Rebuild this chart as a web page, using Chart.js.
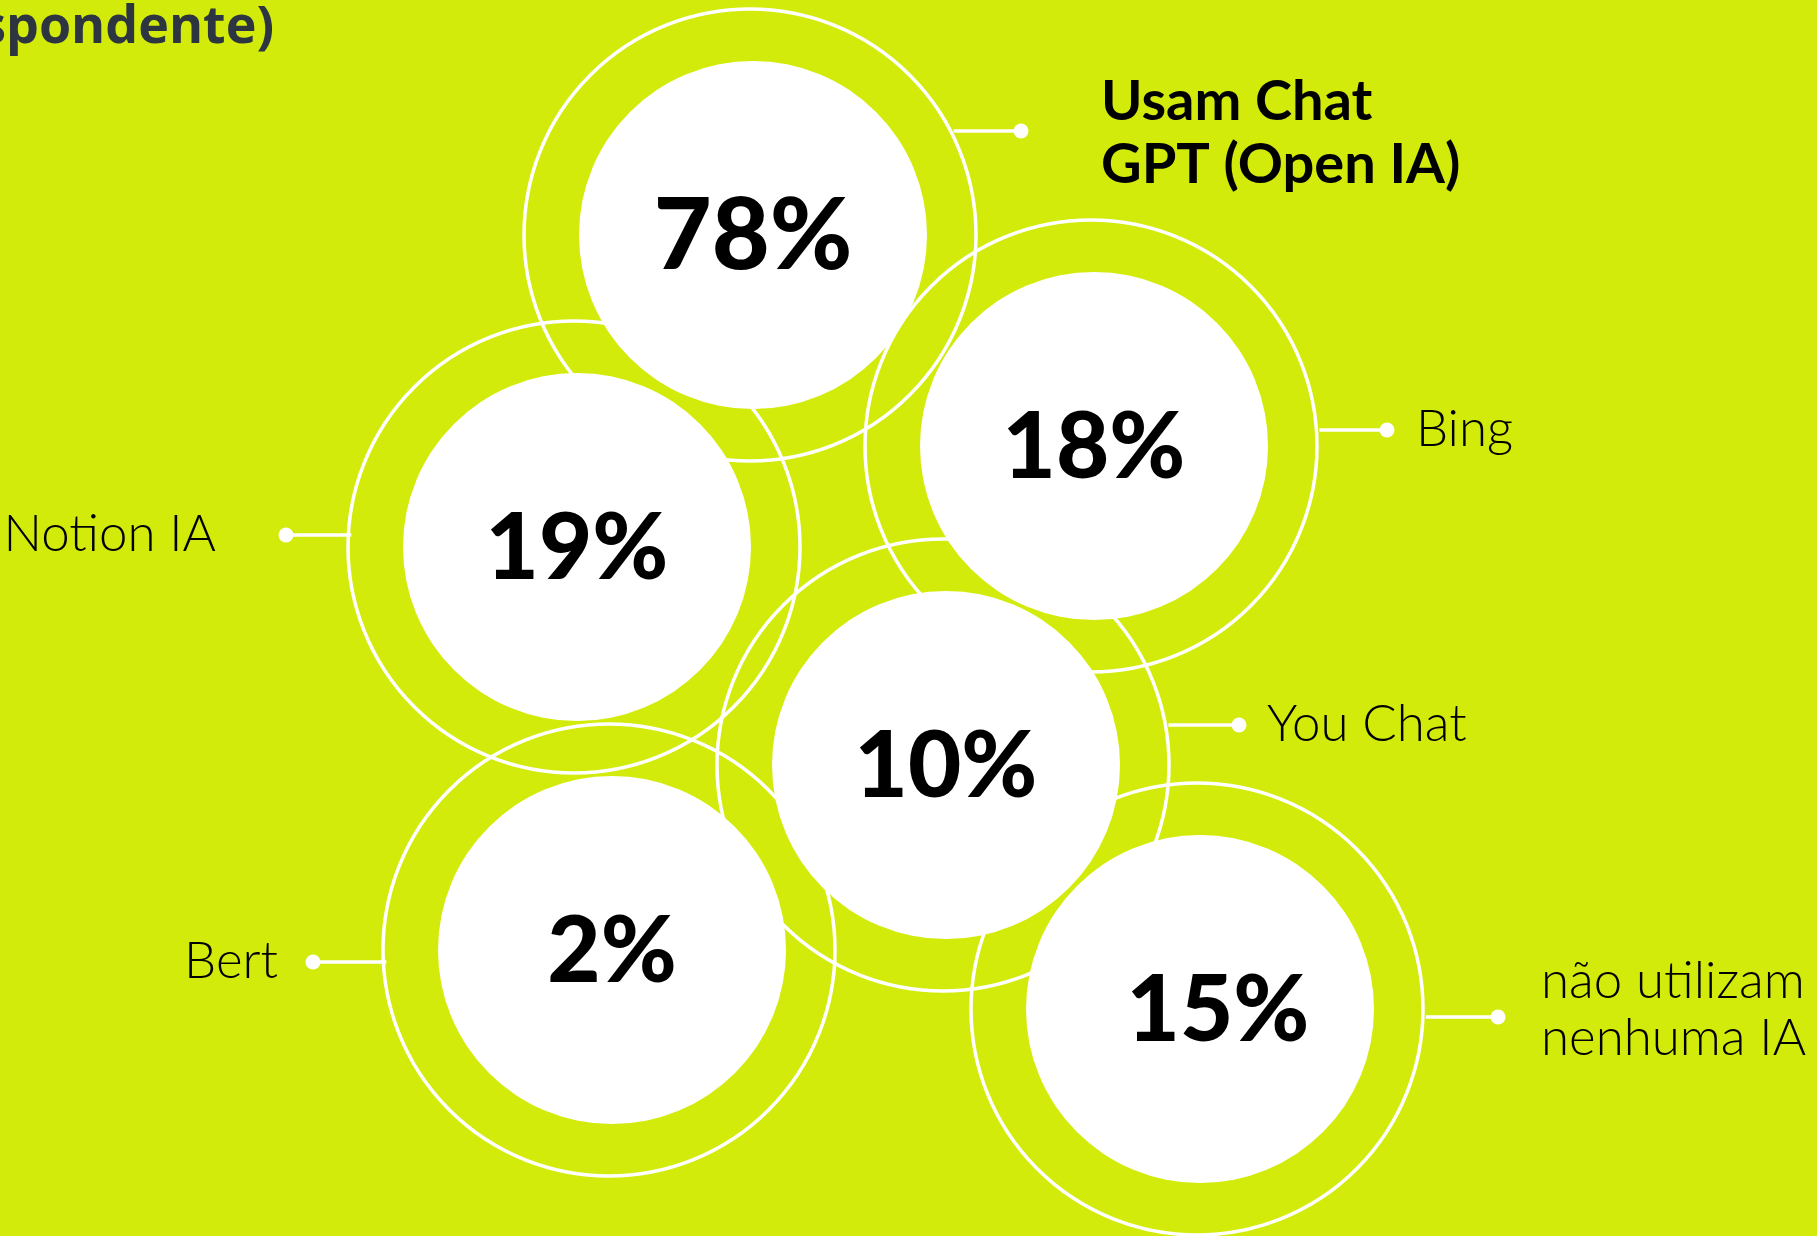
<!DOCTYPE html>
<html>
<head>
<meta charset="utf-8">
<script src="https://cdn.jsdelivr.net/npm/chart.js@4/dist/chart.umd.min.js"></script>
<style>
  html, body { margin: 0; padding: 0; background: #d3eb0b; overflow: hidden; }
  canvas { display: block; }
</style>
</head>
<body>
<canvas id="grafico" width="1817" height="1236"></canvas>
<script>
// dados
const ferramentas = ['Usam Chat GPT (Open IA)', 'Bing', 'Notion IA', 'You Chat', 'Bert', 'não utilizam nenhuma IA'];
const percentuais = [78, 18, 19, 10, 2, 15];
const rotulos = [['Usam Chat', 'GPT (Open IA)'], ['Bing'], ['Notion IA'], ['You Chat'], ['Bert'], ['não utilizam', 'nenhuma IA']];

// layout das bolhas (posição do centro na página, não é dado)
const centroX = [753, 1094, 577, 946, 612, 1200];
const centroY = [235, 446, 547, 765, 950, 1009];
const ajusteValorX = [0, 0, 0, 0, 0, 18];
const ladoRotulo = ['dir', 'dir', 'esq', 'dir', 'esq', 'dir'];
const alturaLinha = [131, 430, 535, 725, 962, 1017];
const pontoX = [1021, 1387, 286, 1239, 313, 1498];
const textoX = [1101, 1416, 216, 1267, 278, 1541];

const raioInterno = 174;
const raioExterno = 226;
const corFundo = '#d3eb0b';

const rotulosPlugin = {
  id: 'rotulos',
  beforeDraw(chart) {
    const ctx = chart.ctx;
    ctx.save();
    ctx.fillStyle = corFundo;
    ctx.fillRect(0, 0, chart.width, chart.height);
    // título cortado no topo
    ctx.fillStyle = '#2d3540';
    ctx.font = 'bold 52px "Open Sans", Lato, sans-serif';
    ctx.textAlign = 'right';
    ctx.textBaseline = 'alphabetic';
    ctx.fillText('(por respondente)', 274, 43);
    ctx.restore();
  },
  afterDatasetsDraw(chart) {
    const ctx = chart.ctx;
    const xs = chart.scales.x, ys = chart.scales.y;
    ctx.save();
    percentuais.forEach((v, i) => {
      const cx = xs.getPixelForValue(centroX[i]);
      const cy = ys.getPixelForValue(centroY[i]);

      // valor
      ctx.fillStyle = '#000';
      ctx.font = (i === 0 ? '900 100px' : '900 92px') + ' Lato, sans-serif';
      ctx.textAlign = 'center';
      ctx.textBaseline = 'middle';
      ctx.fillText(v + '%', cx + ajusteValorX[i], cy + 2);

      // conector
      const ly = ys.getPixelForValue(alturaLinha[i]);
      const dy = ly - cy;
      const dx = Math.sqrt(Math.max(raioExterno * raioExterno - dy * dy, 0));
      const inicio = ladoRotulo[i] === 'dir' ? cx + dx : cx - dx;
      const px = xs.getPixelForValue(pontoX[i]);
      ctx.strokeStyle = '#fff';
      ctx.lineWidth = 3.5;
      ctx.beginPath();
      ctx.moveTo(inicio, ly);
      ctx.lineTo(px, ly);
      ctx.stroke();
      ctx.fillStyle = '#fff';
      ctx.beginPath();
      ctx.arc(px, ly, 7.5, 0, Math.PI * 2);
      ctx.fill();

      // texto
      const linhas = rotulos[i];
      const negrito = i === 0;
      ctx.fillStyle = '#000';
      ctx.font = negrito ? 'bold 56px Lato, sans-serif' : '300 51px Lato, sans-serif';
      ctx.textAlign = ladoRotulo[i] === 'dir' ? 'left' : 'right';
      ctx.textBaseline = 'middle';
      const passo = negrito ? 63 : 57;
      const y0 = ly - (linhas.length - 1) * passo / 2 + (negrito ? 2 : (linhas.length > 1 ? -7 : 0));
      linhas.forEach((t, k) => ctx.fillText(t, xs.getPixelForValue(textoX[i]), y0 + k * passo));
    });
    ctx.restore();
  }
};

new Chart(document.getElementById('grafico'), {
  type: 'bubble',
  data: {
    labels: ferramentas,
    datasets: [
      {
        label: 'círculo',
        data: percentuais.map((v, i) => ({ x: centroX[i], y: centroY[i], r: raioInterno, v })),
        backgroundColor: '#fff',
        borderWidth: 0,
        clip: false
      },
      {
        label: 'anel',
        data: percentuais.map((v, i) => ({ x: centroX[i] - 3, y: centroY[i], r: raioExterno, v })),
        backgroundColor: 'rgba(0,0,0,0)',
        borderColor: '#fff',
        borderWidth: 3.5,
        clip: false
      }
    ]
  },
  options: {
    responsive: false,
    animation: false,
    layout: { padding: 0, autoPadding: false },
    plugins: { legend: { display: false }, tooltip: { enabled: false } },
    scales: {
      x: { type: 'linear', min: 0, max: 1817, display: false },
      y: { type: 'linear', min: 0, max: 1236, reverse: true, display: false }
    }
  },
  plugins: [rotulosPlugin]
});
</script>
</body>
</html>
